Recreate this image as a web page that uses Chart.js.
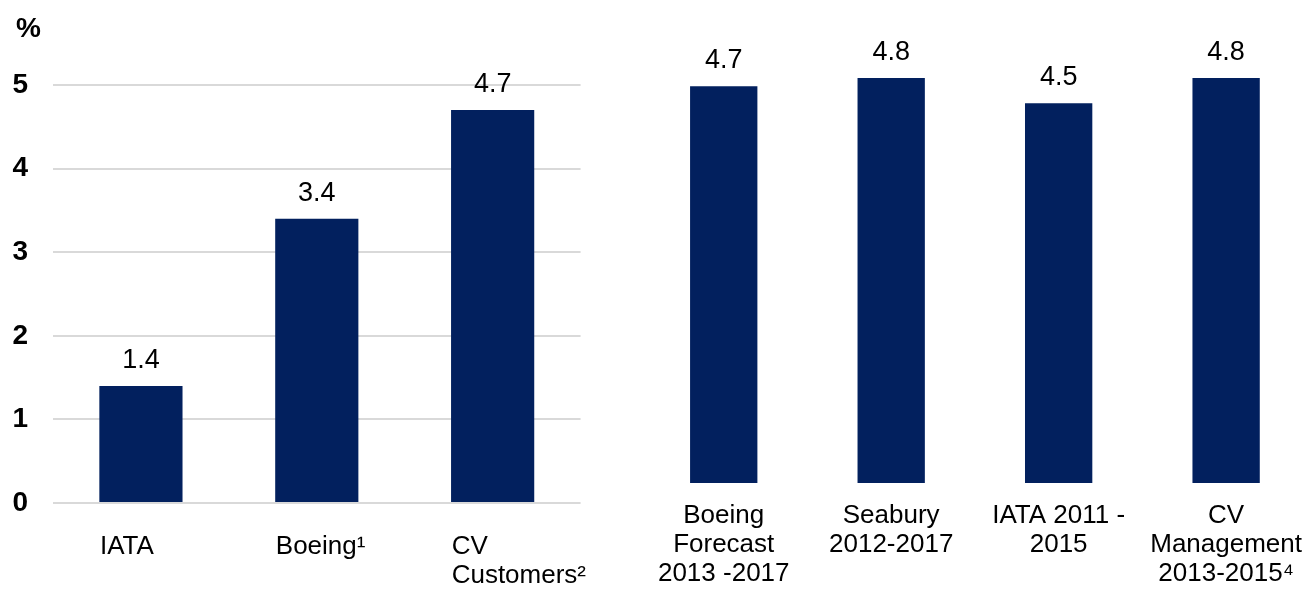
<!DOCTYPE html>
<html>
<head>
<meta charset="utf-8">
<script src="https://cdn.jsdelivr.net/npm/chart.js@4.4.0/dist/chart.umd.min.js"></script>
<style>
html, body { margin: 0; padding: 0; width: 1305px; height: 590px; overflow: hidden; background: #fff; }
#leftChart { position: absolute; left: 0; top: 0; }
#rightChart { position: absolute; left: 640px; top: 0; }
</style>
</head>
<body>
<canvas id="leftChart" width="656" height="590"></canvas>
<canvas id="rightChart" width="680" height="590"></canvas>
<script>
// left panel: growth forecasts
const leftCategories = [['IATA'], ['Boeing¹'], ['CV', 'Customers²']];
const leftValues = [1.4, 3.4, 4.7];
const leftTicks = [0, 1, 2, 3, 4, 5];

// right panel: no axis, own scale
const rightCategories = [
    ['Boeing', 'Forecast', '2013 -2017'],
    ['Seabury', '2012-2017'],
    ['IATA 2011 -', '2015'],
    ['CV', 'Management', '2013-2015⁴']
];
const rightValues = [4.7, 4.8, 4.5, 4.8];

const FONT = '"Liberation Sans", Arial, sans-serif';
const BAR = '#02205e';

Chart.defaults.font.family = FONT;
Chart.defaults.color = '#000';

const valueLabels = {
    id: 'valueLabels',
    afterDatasetsDraw(chart) {
        const ctx = chart.ctx;
        const meta = chart.getDatasetMeta(0);
        const values = chart.data.datasets[0].data;
        ctx.save();
        ctx.font = '27px ' + FONT;
        ctx.fillStyle = '#000';
        ctx.textAlign = 'center';
        ctx.textBaseline = 'alphabetic';
        meta.data.forEach((bar, i) => {
            ctx.fillText(values[i].toFixed(1), bar.x, bar.y - 18);
        });
        ctx.restore();
    }
};

const percentSign = {
    id: 'percentSign',
    afterDraw(chart) {
        const ctx = chart.ctx;
        ctx.save();
        ctx.font = 'bold 28px ' + FONT;
        ctx.fillStyle = '#000';
        ctx.textAlign = 'left';
        ctx.textBaseline = 'alphabetic';
        ctx.fillText('%', 16, 37);
        ctx.restore();
    }
};

new Chart(document.getElementById('leftChart'), {
    type: 'bar',
    data: {
        labels: leftCategories,
        datasets: [{
            data: leftValues,
            backgroundColor: BAR,
            barPercentage: 1,
            categoryPercentage: 0.473
        }]
    },
    options: {
        responsive: false,
        animation: false,
        layout: { padding: { top: 85, right: 0, left: 0, bottom: 0 } },
        plugins: { legend: { display: false }, tooltip: { enabled: false } },
        scales: {
            x: {
                grid: { display: false, drawTicks: false },
                border: { display: false },
                ticks: {
                    font: { size: 26, lineHeight: 1.12 },
                    color: '#000',
                    align: 'start',
                    labelOffset: -41,
                    padding: 29,
                    maxRotation: 0
                },
                afterFit(scale) { scale.height = 87; }
            },
            y: {
                min: 0,
                max: 5,
                afterBuildTicks(scale) { scale.ticks = leftTicks.map(v => ({ value: v })); },
                grid: { color: '#d9d9d9', lineWidth: 2, drawTicks: false },
                border: { display: false },
                ticks: {
                    font: { size: 28, weight: 'bold' },
                    color: '#000',
                    padding: 25
                },
                afterFit(scale) { scale.width = 53; }
            }
        }
    },
    plugins: [valueLabels, percentSign]
});

new Chart(document.getElementById('rightChart'), {
    type: 'bar',
    data: {
        labels: rightCategories,
        datasets: [{
            data: rightValues,
            backgroundColor: BAR,
            barPercentage: 1,
            categoryPercentage: 0.402
        }]
    },
    options: {
        responsive: false,
        animation: false,
        layout: { padding: { top: 61, right: 0, left: 0, bottom: 0 } },
        plugins: { legend: { display: false }, tooltip: { enabled: false } },
        scales: {
            x: {
                grid: { display: false, drawTicks: false },
                border: { display: false },
                ticks: {
                    font: { size: 26, lineHeight: 1.12 },
                    color: '#000',
                    padding: 18,
                    maxRotation: 0
                },
                afterFit(scale) { scale.height = 107; }
            },
            y: {
                display: false,
                min: 0,
                max: 5
            }
        }
    },
    plugins: [valueLabels]
});
</script>
</body>
</html>
